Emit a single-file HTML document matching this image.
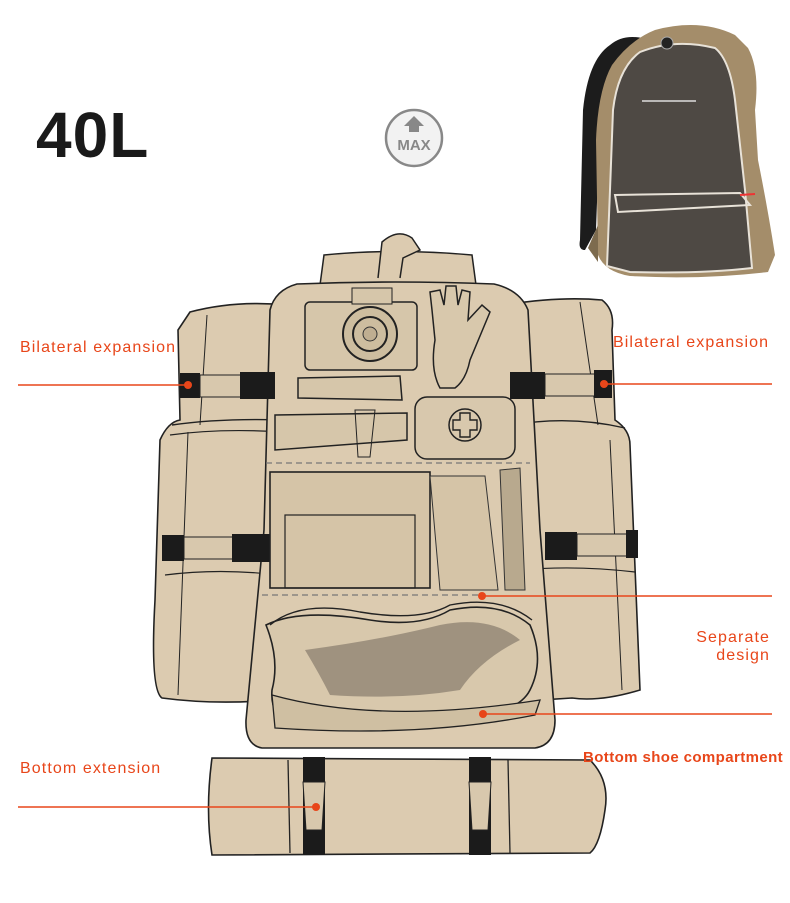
<!DOCTYPE html>
<html><head><meta charset="utf-8"><style>
html,body{margin:0;padding:0;background:#fff;width:790px;height:903px;overflow:hidden}
svg{display:block}
text{font-family:"Liberation Sans",sans-serif}
</style></head><body>
<svg width="790" height="903" viewBox="0 0 790 903" xmlns="http://www.w3.org/2000/svg">
<!-- 40L -->
<text x="36" y="157" font-size="64" font-weight="bold" fill="#1a1a1a" letter-spacing="1">40L</text>
<!-- MAX -->
<circle cx="414" cy="138" r="28" fill="#f2f2f2" stroke="#888" stroke-width="2.5"/>
<path d="M404,126 L414,116 L424,126 L419,126 L419,132 L409,132 L409,126 Z" fill="#888"/>
<text x="414" y="150" font-size="15" font-weight="bold" fill="#888" text-anchor="middle">MAX</text>

<!-- photo backpack -->
<g>
<path d="M610,45 Q625,32 650,40 L655,60 Q600,70 600,120 L596,230 L585,250 Q578,250 580,240 L583,110 Q588,60 610,45Z" fill="#1c1c1c"/>
<path d="M655,30 Q700,18 735,35 L748,48 Q760,70 755,110 L758,160 Q768,210 775,255 L768,272 Q700,280 630,276 Q605,272 598,255 L596,140 Q598,90 612,65 Q630,40 655,30Z" fill="#a48d6a"/>
<path d="M640,52 Q675,38 715,48 Q730,60 735,100 L745,190 L752,268 Q700,274 630,272 L607,266 L610,190 L613,110 Q618,68 640,52Z" fill="#4e4944" stroke="#e8e2d8" stroke-width="2"/>
<path d="M615,195 L740,193 L750,205 L618,212Z" fill="none" stroke="#e8e2d8" stroke-width="2"/>
<line x1="642" y1="101" x2="696" y2="101" stroke="#ddd" stroke-width="1.5"/>
<circle cx="667" cy="43" r="6" fill="#222" stroke="#aaa"/>
<line x1="740" y1="195" x2="755" y2="194" stroke="#e33" stroke-width="2"/>
<path d="M598,225 L588,248 L598,262 Z" fill="#7d6b4e"/>
</g>

<!-- left pad -->
<path d="M190,312 Q235,300 287,305 L285,430 L274,700 Q215,705 162,698 Q150,690 155,600 L160,440 Q168,422 180,420 L178,330 Z" fill="#dccbb0" stroke="#222" stroke-width="1.6"/>
<line x1="207" y1="315" x2="200" y2="425" stroke="#222"/>
<line x1="188" y1="432" x2="178" y2="695" stroke="#222"/>
<path d="M172,425 Q220,418 285,420" fill="none" stroke="#222" stroke-width="1.4"/>
<path d="M170,435 Q220,428 283,432" fill="none" stroke="#222" stroke-width="1.2"/>
<path d="M165,575 Q220,568 278,575" fill="none" stroke="#222" stroke-width="1.2"/>
<!-- right pad -->
<path d="M503,305 Q560,296 602,300 Q615,310 612,330 L615,420 Q630,430 630,445 L640,690 Q600,702 572,698 L540,700 L525,520 Z" fill="#dccbb0" stroke="#222" stroke-width="1.6"/>
<line x1="580" y1="302" x2="598" y2="425" stroke="#222"/>
<line x1="610" y1="440" x2="622" y2="690" stroke="#222"/>
<path d="M512,425 Q570,415 625,428" fill="none" stroke="#222" stroke-width="1.4"/>
<path d="M520,570 Q575,565 635,572" fill="none" stroke="#222" stroke-width="1.2"/>

<!-- top shoulder piece -->
<path d="M320,285 L324,255 Q395,248 472,255 L476,285 Z" fill="#dccbb0" stroke="#222" stroke-width="1.5"/>
<path d="M378,278 L382,242 Q398,228 412,238 L420,250 L403,258 L400,278" fill="#dccbb0" stroke="#222" stroke-width="1.5"/>
<!-- main body -->
<path d="M297,284 Q395,280 494,284 Q520,290 528,310 L540,530 L555,720 Q555,745 535,748 L262,748 Q245,745 246,720 L264,530 L270,310 Q275,290 297,284Z" fill="#dccbb0" stroke="#222" stroke-width="1.6"/>

<!-- buckles left -->
<rect x="180" y="373" width="20" height="25" fill="#1b1b1b"/>
<rect x="200" y="375" width="55" height="22" fill="#d8c8ad" stroke="#222"/>
<rect x="240" y="372" width="35" height="27" fill="#1b1b1b"/>
<rect x="162" y="535" width="22" height="26" fill="#1b1b1b"/>
<rect x="184" y="537" width="50" height="22" fill="#d8c8ad" stroke="#222"/>
<rect x="232" y="534" width="40" height="28" fill="#1b1b1b"/>
<!-- buckles right -->
<rect x="510" y="372" width="35" height="27" fill="#1b1b1b"/>
<rect x="545" y="374" width="50" height="22" fill="#d8c8ad" stroke="#222"/>
<rect x="594" y="370" width="18" height="28" fill="#1b1b1b"/>
<rect x="545" y="532" width="32" height="28" fill="#1b1b1b"/>
<rect x="577" y="534" width="50" height="22" fill="#d8c8ad" stroke="#222"/>
<rect x="626" y="530" width="12" height="28" fill="#1b1b1b"/>

<!-- camera -->
<rect x="305" y="302" width="112" height="68" rx="5" fill="#d6c6aa" stroke="#222" stroke-width="1.5"/>
<rect x="352" y="288" width="40" height="16" fill="#d6c6aa" stroke="#222"/>
<circle cx="370" cy="334" r="27" fill="#cdbd9f" stroke="#222" stroke-width="2"/>
<circle cx="370" cy="334" r="17" fill="none" stroke="#222" stroke-width="2"/>
<circle cx="370" cy="334" r="7" fill="#bfae91" stroke="#333"/>
<!-- glove -->
<path d="M432,310 L430,292 L440,290 L444,305 L446,286 L456,286 L458,305 L462,290 L470,292 L468,320 L482,305 L490,312 L470,360 Q466,380 455,388 L440,388 Q430,370 435,340 Z" fill="#d8c8ac" stroke="#222" stroke-width="1.5"/>
<!-- flashlight -->
<path d="M298,378 L400,376 L402,400 L298,398 Z" fill="#d6c6aa" stroke="#222" stroke-width="1.5"/>
<!-- toothpaste -->
<path d="M275,415 L407,413 L407,440 L275,450 Z" fill="#d6c6aa" stroke="#222" stroke-width="1.5"/>
<path d="M355,410 L375,410 L370,457 L358,457 Z" fill="none" stroke="#222"/>
<!-- first aid -->
<rect x="415" y="397" width="100" height="62" rx="12" fill="#d8c8ad" stroke="#222" stroke-width="1.5"/>
<circle cx="465" cy="425" r="16" fill="none" stroke="#222" stroke-width="1.5"/>
<path d="M460,413 h10 v7 h7 v10 h-7 v7 h-10 v-7 h-7 v-10 h7 z" fill="none" stroke="#222" stroke-width="1.4"/>
<line x1="266" y1="463" x2="530" y2="463" stroke="#777" stroke-dasharray="6,4" stroke-width="1.2"/>
<!-- clothes -->
<rect x="270" y="472" width="160" height="116" fill="#d5c4a7" stroke="#222" stroke-width="1.6"/>
<rect x="285" y="515" width="130" height="73" fill="none" stroke="#222" stroke-width="1.2"/>
<path d="M430,476 L485,476 L498,590 L440,590 Z" fill="#d5c4a7" stroke="#333"/>
<path d="M500,470 L520,468 L525,590 L505,590 Z" fill="#b8a98e" stroke="#333"/>
<line x1="262" y1="595" x2="482" y2="595" stroke="#777" stroke-dasharray="6,4" stroke-width="1.2"/>
<!-- shoe -->
<path d="M266,625 Q300,608 370,620 Q420,628 450,610 Q500,600 530,625 Q545,660 530,690 Q520,710 480,716 Q420,722 370,720 L290,725 Q270,715 272,690 Q280,660 266,625Z" fill="#d8c8ac" stroke="#222" stroke-width="1.6"/>
<path d="M305,650 Q380,640 440,625 Q490,615 520,640 Q480,660 460,690 Q400,700 330,695 Q320,675 305,650Z" fill="#8c8070" opacity="0.75"/>
<path d="M272,695 Q380,725 540,700 L535,715 Q420,738 275,728Z" fill="#cfbfa2" stroke="#222" stroke-width="1.3"/>
<path d="M270,625 Q300,600 360,612 Q420,622 450,605 Q500,595 532,620" fill="none" stroke="#222" stroke-width="1.4"/>

<!-- bottom roll -->
<path d="M212,758 L590,760 Q610,780 605,810 Q600,845 590,853 L212,855 Q205,810 212,758Z" fill="#dccbb0" stroke="#222" stroke-width="1.6"/>
<line x1="288" y1="760" x2="290" y2="853" stroke="#222" stroke-width="1.3"/>
<line x1="508" y1="760" x2="510" y2="853" stroke="#222" stroke-width="1.3"/>
<rect x="303" y="757" width="22" height="98" fill="#1b1b1b"/>
<rect x="469" y="757" width="22" height="98" fill="#1b1b1b"/>
<path d="M303,782 L325,782 L322,830 L306,830 Z" fill="#d8c8ad" stroke="#222"/>
<path d="M469,782 L491,782 L488,830 L472,830 Z" fill="#d8c8ad" stroke="#222"/>

<!-- orange annotations -->
<g fill="#e8461a" stroke="#e8461a">
<line x1="18" y1="385" x2="188" y2="385" stroke-width="1.6"/>
<circle cx="188" cy="385" r="4" stroke="none"/>
<line x1="604" y1="384" x2="772" y2="384" stroke-width="1.6"/>
<circle cx="604" cy="384" r="4" stroke="none"/>
<line x1="482" y1="596" x2="772" y2="596" stroke-width="1.6"/>
<circle cx="482" cy="596" r="4" stroke="none"/>
<line x1="483" y1="714" x2="772" y2="714" stroke-width="1.6"/>
<circle cx="483" cy="714" r="4" stroke="none"/>
<line x1="18" y1="807" x2="316" y2="807" stroke-width="1.6"/>
<circle cx="316" cy="807" r="4" stroke="none"/>
</g>
<g fill="#e8461a" font-size="16" letter-spacing="1.1">
<text x="20" y="352">Bilateral expansion</text>
<text x="613" y="347">Bilateral expansion</text>
<text x="770" y="642" text-anchor="end">Separate</text>
<text x="770" y="660" text-anchor="end">design</text>
<text x="20" y="773">Bottom extension</text>
<text x="583" y="762" font-size="15" font-weight="bold" letter-spacing="0.4">Bottom shoe compartment</text>
</g>
</svg>
</body></html>
